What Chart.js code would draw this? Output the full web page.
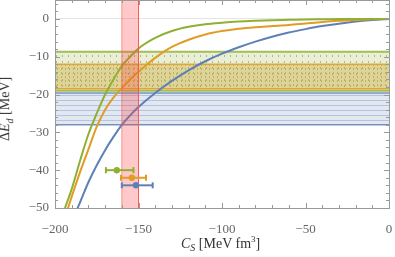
<!DOCTYPE html>
<html>
<head>
<meta charset="utf-8">
<script src="https://cdn.jsdelivr.net/npm/chart.js@4"></script>
<style>
  body { margin: 0; background: #fff; }
  #wrap { position: relative; width: 395px; height: 257px; }
  .lbl { position: absolute; font-family: 'Liberation Serif', 'DejaVu Serif', serif; font-size: 14px; color: #333; white-space: nowrap; }
  .lbl sub { font-size: 10px; }
  .lbl sup { font-size: 9px; }
</style>
</head>
<body>
<div id="wrap">
  <canvas id="chart" width="395" height="257"></canvas>
  <div class="lbl" id="xlab" style="left:181px; top:234px;"><i>C</i><sub><i>S</i></sub> [MeV fm<sup>3</sup>]</div>
  <div class="lbl" id="ylab" style="left:-26px; top:100px; transform: rotate(-90deg);">Δ<i>E</i><sub><i>d</i></sub> [MeV]</div>
</div>
<script>
// curve samples
const xs = [-198, -194, -190, -185, -180, -175, -170, -165, -160, -155, -150, -140, -130, -120, -110, -100, -90, -80, -70, -60, -50, -40, -30, -20, -10, 0]
const greenCurve = [-56, -50, -45, -37.5, -30.5, -25, -20, -16, -12.5, -10, -7.8, -5, -3.2, -2.1, -1.4, -1.0, -0.7, -0.5, -0.35, -0.25, -0.15, -0.1, -0.05, -0.02, 0, 0]
const orangeCurve = [-58, -52.5, -47, -40.5, -34.5, -28.5, -24, -20.8, -18.3, -16, -14, -10.3, -7.4, -5.5, -4.1, -3.2, -2.6, -2.2, -1.9, -1.6, -1.2, -0.8, -0.5, -0.3, -0.1, 0]
const blueCurve = [-62, -57.5, -53.5, -48.5, -43.2, -38.7, -34.7, -31.2, -28, -25.5, -23.3, -19.6, -16.4, -13.6, -11.2, -9.2, -7.5, -6, -4.7, -3.6, -2.7, -1.9, -1.25, -0.7, -0.3, 0]

// horizontal bands [bottom, top]
const greenBand = [-19, -8.7]
const orangeBand = [-18.5, -12]
const blueBand = [-28, -19.6]
// vertical band [left, right]
const redBand = [-160, -150]

// error bars [low, center, high, y]
const greenErr = [-169.5, -163, -153, -40]
const orangeErr = [-160.5, -154, -145.5, -42]
const blueErr = [-160, -151.5, -141.5, -44]

const xRange = [-200, 0]
const yRange = [-50, 5]

const GREEN = '#8FB032'
const ORANGE = '#E19C24'
const BLUE = '#5E81B5'

const makePattern = (w, h, base, draw) => {
    const c = document.createElement('canvas')
    c.width = w
    c.height = h
    const g = c.getContext('2d')
    g.fillStyle = base
    g.fillRect(0, 0, w, h)
    draw(g)
    return g.createPattern(c, 'repeat')
}

const bluePattern = makePattern(4, 5, 'rgba(94,129,181,0.18)', (g) => {
    g.fillStyle = 'rgba(94,129,181,0.35)'
    g.fillRect(0, 0, 4, 1)
})
const greenPattern = makePattern(6, 6, 'rgba(143,176,50,0.2)', (g) => {
    g.fillStyle = 'rgba(120,150,40,0.55)'
    g.fillRect(2, 1, 1, 2)
})
const orangePattern = makePattern(4, 4, 'rgba(210,160,40,0.35)', (g) => {
    g.fillStyle = 'rgba(130,150,40,0.45)'
    g.fillRect(1, 0, 1, 2)
})

const curve = (vals) => xs.map((x, i) => ({ x: x, y: vals[i] }))
const hline = (y) => [{ x: xRange[0], y: y }, { x: xRange[1], y: y }]

const band = (vals, color, pattern, width, order) => [
    { data: hline(vals[1]), borderColor: color, borderWidth: width, pointRadius: 0, fill: false, order: order },
    { data: hline(vals[0]), borderColor: color, borderWidth: width, pointRadius: 0, fill: '-1', backgroundColor: pattern, order: order },
]

const errBar = (e, color) => ({
    data: [{ x: e[0], y: e[3] }, { x: e[1], y: e[3] }, { x: e[2], y: e[3] }],
    borderColor: color,
    backgroundColor: color,
    borderWidth: 2,
    pointStyle: ['line', 'circle', 'line'],
    pointRotation: [90, 0, 90],
    pointRadius: [3, 2.2, 3],
    pointBorderWidth: 2,
    fill: false,
    order: 1,
})

const datasets = [
    ...band(blueBand, 'rgba(94,129,181,0.85)', bluePattern, 1.5, 12),
    ...band(greenBand, 'rgba(143,176,50,0.8)', greenPattern, 2, 11),
    ...band(orangeBand, 'rgba(225,156,36,0.85)', orangePattern, 1.5, 10),
    { data: curve(greenCurve), borderColor: GREEN, borderWidth: 2, pointRadius: 0, fill: false, cubicInterpolationMode: 'monotone', order: 5 },
    { data: curve(orangeCurve), borderColor: ORANGE, borderWidth: 2, pointRadius: 0, fill: false, cubicInterpolationMode: 'monotone', order: 5 },
    { data: curve(blueCurve), borderColor: BLUE, borderWidth: 2, pointRadius: 0, fill: false, cubicInterpolationMode: 'monotone', order: 5 },
    {
        data: [{ x: redBand[0], y: yRange[0] }, { x: redBand[0], y: yRange[1] }, { x: redBand[1], y: yRange[1] }, { x: redBand[1], y: yRange[0] }],
        borderColor: 'rgba(255,80,80,0.6)',
        borderWidth: 1,
        pointRadius: 0,
        fill: 'start',
        backgroundColor: 'rgba(255,60,60,0.28)',
        order: 3,
    },
    errBar(greenErr, GREEN),
    errBar(orangeErr, ORANGE),
    errBar(blueErr, BLUE),
]

// frame with inward ticks, like the original
const frame = {
    id: 'frame',
    afterDatasetsDraw(chart) {
        const { ctx, chartArea: a, scales } = chart
        ctx.save()
        ctx.strokeStyle = '#999'
        ctx.lineWidth = 1
        ctx.strokeRect(a.left + 0.5, a.top + 0.5, a.right - a.left, a.bottom - a.top)
        ctx.beginPath()
        for (let v = xRange[0]; v <= xRange[1]; v += 10) {
            const p = Math.round(scales.x.getPixelForValue(v)) + 0.5
            const len = v % 50 === 0 ? 5 : 3
            ctx.moveTo(p, a.bottom); ctx.lineTo(p, a.bottom - len)
            ctx.moveTo(p, a.top); ctx.lineTo(p, a.top + len)
        }
        for (let v = yRange[0]; v <= yRange[1]; v += 2) {
            const p = Math.round(scales.y.getPixelForValue(v)) + 0.5
            const len = v % 10 === 0 ? 5 : 3
            ctx.moveTo(a.left, p); ctx.lineTo(a.left + len, p)
            ctx.moveTo(a.right, p); ctx.lineTo(a.right - len, p)
        }
        ctx.stroke()
        ctx.restore()
    }
}

const tickFont = { family: "'Liberation Serif', 'DejaVu Serif', serif", size: 13 }
const minus = (v) => (v < 0 ? '\u2212' + Math.abs(v) : '' + v)

new Chart(document.getElementById('chart').getContext('2d'), {
    type: 'line',
    data: { datasets: datasets },
    options: {
        responsive: false,
        animation: false,
        layout: { autoPadding: false, padding: { top: 0, right: 6, left: 0, bottom: 0 } },
        plugins: { legend: { display: false }, tooltip: { enabled: false } },
        scales: {
            x: {
                type: 'linear',
                min: xRange[0],
                max: xRange[1],
                border: { display: false },
                grid: { display: false },
                ticks: {
                    stepSize: 50,
                    color: '#666',
                    font: tickFont,
                    padding: 6,
                    maxRotation: 0,
                    callback: minus,
                },
                afterFit(scale) {
                    scale.height = 49
                    scale.paddingLeft = 0
                    scale.paddingRight = 0
                },
            },
            y: {
                type: 'linear',
                min: yRange[0],
                max: yRange[1],
                border: { display: false },
                grid: {
                    drawTicks: false,
                    color: (ctx) => (ctx.tick && ctx.tick.value === 0 ? '#e4e4e4' : 'transparent'),
                },
                ticks: {
                    stepSize: 10,
                    color: '#666',
                    font: tickFont,
                    padding: 6,
                    callback: (v) => (v % 10 === 0 ? minus(v) : ''),
                },
                afterFit(scale) {
                    scale.width = 55
                    scale.paddingTop = 0
                    scale.paddingBottom = 0
                },
            },
        },
    },
    plugins: [frame],
})
</script>
</body>
</html>
